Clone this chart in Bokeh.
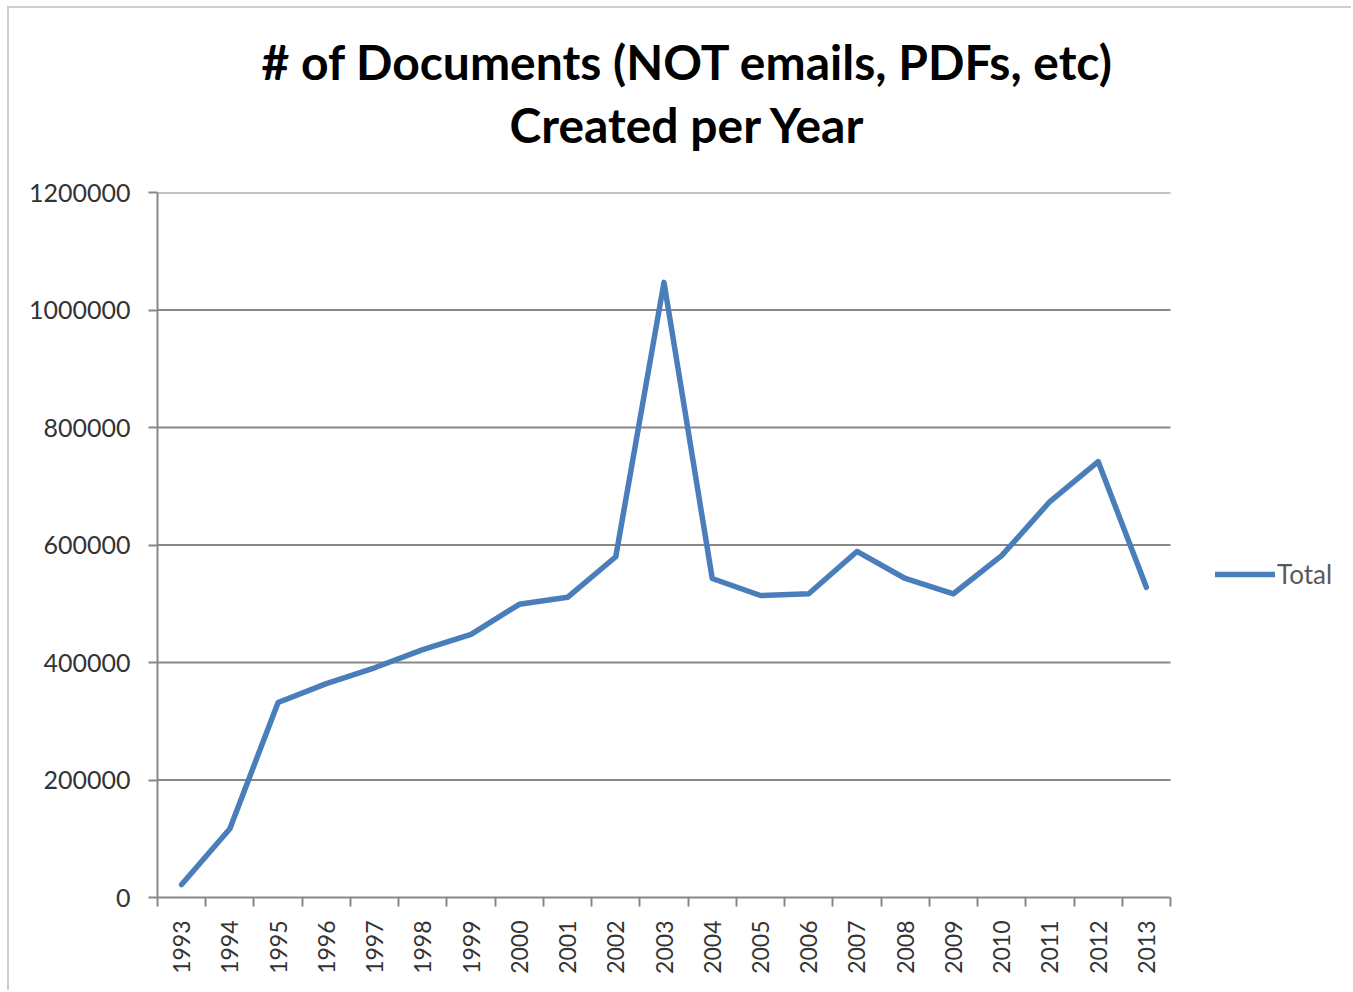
from bokeh.plotting import figure
from bokeh.models import Range1d, FixedTicker, Legend, LegendItem, NumeralTickFormatter, Title
from bokeh.embed import file_html
from bokeh.resources import INLINE
import math

years = list(range(1993, 2014))
totals = [22000, 117000, 332000, 364000, 391000, 422000, 448000, 499000, 511000,
          580000, 1047000, 543000, 514000, 517000, 589000, 543000, 517000,
          582000, 674000, 742000, 528000]
y_ticks = [0, 200000, 400000, 600000, 800000, 1000000, 1200000]
title_line1 = "# of Documents (NOT emails, PDFs, etc)"
title_line2 = "Created per Year"
series_name = "Total"

# layout (pixels)
W, H = 1344, 984
left_b, top_b, bottom_b = 148, 184, 95
plot_area_w = 1013          # width of the category area
frame_w = W - left_b        # frame extends to the right edge (legend lives there)
x0 = years[0] - 0.5
x1_cat = years[-1] + 0.5
x_end = x0 + len(years) * frame_w / plot_area_w

p = figure(width=W, height=H, output_backend="svg", toolbar_location=None,
           x_range=Range1d(x0, x_end),
           y_range=Range1d(y_ticks[0], y_ticks[-1]),
           min_border_left=left_b, min_border_right=0, min_border_top=top_b,
           min_border_bottom=bottom_b,
           styles={"margin-top": "6px", "margin-left": "7px",
                   "border-top": "2px solid #cfcfcf", "border-left": "2px solid #cfcfcf"})

def make_title(text, offset, standoff):
    return Title(text=text, text_font="Lato", text_font_style="bold",
                 text_font_size="48px", text_color="#000000", align="left",
                 offset=offset, standoff=standoff)

# spacer between the frame and the title lines
p.add_layout(Title(text=" ", text_font_size="1px", standoff=33), "above")
p.add_layout(make_title(title_line2, 352, 8), "above")
p.add_layout(make_title(title_line1, 104, 0), "above")

p.outline_line_color = None
p.xgrid.grid_line_color = None
p.ygrid.grid_line_color = None

# horizontal gridlines across the category area only
p.segment(x0=[x0] * (len(y_ticks) - 1), x1=[x1_cat] * (len(y_ticks) - 1),
          y0=y_ticks[1:], y1=y_ticks[1:], line_color="#878787", line_width=2)

xa = p.xaxis[0]
xa.bounds = (x0, x1_cat)
xa.ticker = FixedTicker(ticks=years, minor_ticks=[y - 0.5 for y in years] + [x1_cat])
xa.major_label_overrides = {y: str(y) for y in years}
xa.major_label_orientation = math.pi / 2
xa.major_tick_line_color = None
xa.minor_tick_line_color = "#878787"
xa.minor_tick_line_width = 2
xa.minor_tick_out = 9
xa.minor_tick_in = 0
xa.axis_line_color = "#878787"
xa.axis_line_width = 2
xa.major_label_text_font = "Lato"
xa.major_label_text_font_size = "23px"
xa.major_label_text_color = "#333333"
xa.major_label_standoff = 14

ya = p.yaxis[0]
ya.ticker = FixedTicker(ticks=y_ticks)
ya.formatter = NumeralTickFormatter(format="0")
ya.major_tick_line_color = "#878787"
ya.major_tick_line_width = 2
ya.major_tick_out = 9
ya.major_tick_in = 0
ya.minor_tick_line_color = None
ya.axis_line_color = "#878787"
ya.axis_line_width = 2
ya.major_label_text_font = "Lato"
ya.major_label_text_font_size = "25px"
ya.major_label_text_color = "#333333"
ya.major_label_standoff = 18

r = p.line(years, totals, line_color="#4A7EBB", line_width=5.5, line_join="round", line_cap="round")

legend = Legend(items=[LegendItem(label=series_name, renderers=[r])],
                location=(1058, 307), border_line_color=None, background_fill_alpha=0,
                padding=0, margin=0, glyph_width=60, glyph_height=26, label_height=26,
                label_standoff=2, label_text_font="Lato", label_text_font_size="26px",
                label_text_color="#595959")
p.add_layout(legend, "center")

open("out.html", "w").write(file_html(p, INLINE))
